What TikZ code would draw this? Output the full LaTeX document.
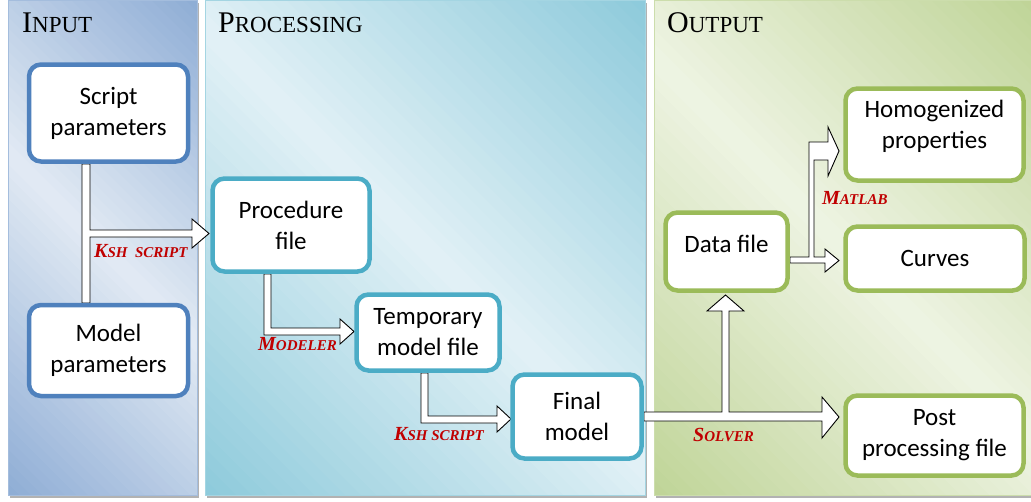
\documentclass[tikz,border=0pt]{standalone}
\usepackage{fontspec}
\setmainfont{Carlito}
\newfontfamily\capsfont{Liberation Serif}
\usetikzlibrary{calc}
\definecolor{inblue}{HTML}{4F81BD}
\definecolor{procblue}{HTML}{4BACC6}
\definecolor{outgreen}{HTML}{9BBB59}
\definecolor{labred}{HTML}{C00000}
\definecolor{indark}{HTML}{8EADD5}
\definecolor{inlight}{HTML}{E2EAF4}
\definecolor{prdark}{HTML}{8DCADB}
\definecolor{prlight}{HTML}{E2F1F6}
\definecolor{outdark}{HTML}{BFD497}
\definecolor{outlight}{HTML}{EEF4E3}
\pgfdeclarelayer{bg}
\pgfdeclarelayer{arr}
\pgfsetlayers{bg,arr,main}
\tikzset{
  box/.style={draw, line width=4.5pt, rounded corners=12pt, fill=white, align=center,
    font=\fontsize{25}{31}\selectfont, inner sep=0pt},
  inbox/.style={box, draw=inblue},
  prbox/.style={box, draw=procblue},
  outbox/.style={box, draw=outgreen},
  blockarrow/.style={draw=black, fill=white, line width=0.9pt, line join=miter},
  lab/.style={font=\capsfont\bfseries\itshape, text=labred, inner sep=0pt, anchor=base west},
  ttl/.style={font=\capsfont, text=black, inner sep=0pt, anchor=base west},
  panelshadow/.style={fill=black!30}
}
\newcommand{\bigc}[1]{{\fontsize{30}{30}\selectfont #1}}
\newcommand{\smc}[1]{{\fontsize{23}{23}\selectfont #1}}
\newcommand{\lbig}[1]{{\fontsize{20}{20}\selectfont #1}}
\newcommand{\lsmc}[1]{{\fontsize{15}{15}\selectfont #1}}
% diagonal dark-light-dark gradient panel: x0, x1, dark, light
\newcommand{\gradpanel}[4]{%
  \begin{scope}
  \clip (#1,0) rectangle (#2,495);
  \pgfmathsetmacro\gw{(#2-#1+495)/60}
  \foreach \i in {0,...,59}{%
    \pgfmathsetmacro\ca{\i*\gw+#1-495}
    \pgfmathsetmacro\cb{(\i+1)*\gw+#1-495+1}
    \pgfmathsetmacro\ff{100*(1-abs(2*(\i+0.5)/60-1))}
    \fill[#4!\ff!#3] (\ca-600,-600) -- (\ca+600,600) -- (\cb+600,600) -- (\cb-600,-600) -- cycle;
  }
  \end{scope}
  \draw[#3!80!white, line width=0.8pt] (#1,0) rectangle (#2,495);
}
\begin{document}
\begin{tikzpicture}[x=1pt,y=-1pt]
\useasboundingbox (0,0) rectangle (1031,501);
% panels
\begin{pgfonlayer}{bg}
\fill[white] (0,0) rectangle (1031,501);
\fill[panelshadow] (10,3) rectangle (199,498);
\fill[panelshadow] (207,3) rectangle (647,498);
\fill[panelshadow] (656,3) rectangle (1034,498);
\gradpanel{8}{197}{indark}{inlight}
\gradpanel{205}{645}{prdark}{prlight}
\gradpanel{654}{1034}{outdark}{outlight}
\end{pgfonlayer}
% titles
\node[ttl] (tin) at (22,32) {\bigc{I}\smc{NPUT}};
\node[ttl] (tpr) at (218,32) {\bigc{P}\smc{ROCESSING}};
\node[ttl] (tout) at (667,32) {\bigc{O}\smc{UTPUT}};
% boxes
\node[inbox, minimum width=159pt, minimum height=97pt] (sp) at (108.5,113) {Script\\parameters};
\node[inbox, minimum width=159pt, minimum height=91pt] (mp) at (108.5,350.5) {Model\\parameters};
\node[prbox, minimum width=157pt, minimum height=93pt] (pf) at (291,225) {Procedure\\file};
\node[prbox, minimum width=143pt, minimum height=76pt] (tm) at (428,332.5) {Temporary\\model file};
\node[prbox, minimum width=129pt, minimum height=84pt] (fm) at (577,416.5) {Final\\model};
\node[outbox, minimum width=122pt, minimum height=78pt] (df) at (726.5,251.5) {\raisebox{16pt}{Data file}};
\node[outbox, minimum width=178pt, minimum height=92pt] (hp) at (934.5,134.5) {Homogenized\\properties\\[-10pt]\mbox{}};
\node[outbox, minimum width=179pt, minimum height=64pt] (cu) at (935,258.5) {Curves};
\node[outbox, minimum width=178pt, minimum height=80pt] (pp) at (934.5,435.5) {Post\\processing file};
% block arrows
\begin{pgfonlayer}{arr}
\draw[blockarrow] (82,164) -- (90,164) -- (90,230) -- (192,230) -- (192,219) -- (209,233.5)
  -- (192,248) -- (192,237) -- (90,237) -- (90,303) -- (82,303) -- cycle;
\draw[blockarrow] (264,274) -- (271,274) -- (271,328) -- (340,328) -- (340,319) -- (354,331.5)
  -- (340,344) -- (340,335) -- (264,335) -- cycle;
\draw[blockarrow] (421,373) -- (428,373) -- (428,416) -- (497,416) -- (497,406) -- (511,419)
  -- (497,432) -- (497,423) -- (421,423) -- cycle;
\draw[blockarrow] (644,412) -- (722,412) -- (722,311) -- (707,311) -- (725.5,295) -- (744,311)
  -- (729,311) -- (729,412) -- (822,412) -- (822,397) -- (839,417) -- (822,438) -- (822,421)
  -- (644,421) -- cycle;
\draw[blockarrow] (790,257) -- (809,257) -- (809,142) -- (828,142) -- (828,127) -- (839,151)
  -- (828,176) -- (828,160) -- (814,160) -- (814,257) -- (825,257) -- (825,249) -- (839,260.5)
  -- (825,272) -- (825,263) -- (790,263) -- cycle;
\end{pgfonlayer}
% labels
\node[lab] (l1) at (94,257) {\lbig{K}\lsmc{SH\ \ SCRIPT}};
\node[lab] (l2) at (258,350) {\lbig{M}\lsmc{ODELER}};
\node[lab] (l3) at (394,440) {\lbig{K}\lsmc{SH SCRIPT}};
\node[lab] (l4) at (693,441) {\lbig{S}\lsmc{OLVER}};
\node[lab] (l5) at (822,204) {\lbig{M}\lsmc{ATLAB}};
\end{tikzpicture}
\end{document}
